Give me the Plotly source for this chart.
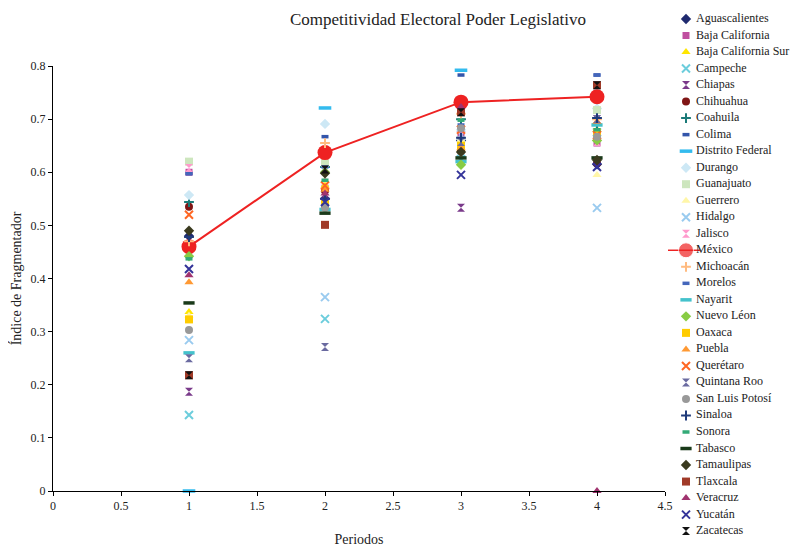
import plotly.graph_objects as go

periods = [1, 2, 3, 4]
aguascalientes = [0.480, 0.550, 0.660, 0.615]
baja_california = [0.600, 0.570, 0.670, 0.655]
baja_california_sur = [0.337, 0.575, 0.645, 0.680]
campeche = [0.143, 0.324, 0.625, 0.675]
chiapas = [0.187, 0.560, 0.533, 0.700]
chihuahua = [0.535, 0.565, 0.640, 0.617]
coahuila = [0.544, 0.610, 0.700, 0.690]
colima = [0.598, 0.667, 0.783, 0.783]
distrito_federal = [0.000, 0.721, 0.792, 0.745]
durango = [0.557, 0.691, 0.680, 0.720]
guanajuato = [0.620, 0.617, 0.660, 0.717]
guerrero = [0.330, 0.585, 0.660, 0.595]
hidalgo = [0.284, 0.365, 0.670, 0.533]
jalisco = [0.608, 0.590, 0.670, 0.657]
mexico = [0.460, 0.637, 0.732, 0.742]
michoacan = [0.470, 0.655, 0.710, 0.700]
morelos = [0.597, 0.610, 0.689, 0.783]
nayarit = [0.260, 0.530, 0.620, 0.689]
nuevo_leon = [0.442, 0.600, 0.614, 0.660]
oaxaca = [0.323, 0.540, 0.650, 0.675]
puebla = [0.393, 0.567, 0.645, 0.695]
queretaro = [0.520, 0.575, 0.680, 0.670]
quintana_roo = [0.250, 0.271, 0.657, 0.700]
san_luis_potosi = [0.303, 0.533, 0.683, 0.667]
sinaloa = [0.478, 0.550, 0.665, 0.702]
sonora = [0.437, 0.585, 0.698, 0.680]
tabasco = [0.354, 0.523, 0.627, 0.627]
tamaulipas = [0.490, 0.598, 0.638, 0.623]
tlaxcala = [0.218, 0.501, 0.713, 0.764]
veracruz = [0.406, 0.560, 0.723, 0.000]
yucatan = [0.418, 0.544, 0.595, 0.610]
zacatecas = [0.218, 0.605, 0.713, 0.764]

x_ticks = [0, 0.5, 1, 1.5, 2, 2.5, 3, 3.5, 4, 4.5]
y_ticks = [0, 0.1, 0.2, 0.3, 0.4, 0.5, 0.6, 0.7, 0.8]

series = [
    ("Aguascalientes", aguascalientes, "diamond", "#1F2A6F", 8),
    ("Baja California", baja_california, "square", "#C04FA0", 7),
    ("Baja California Sur", baja_california_sur, "triangle-up", "#FFE600", 8),
    ("Campeche", campeche, "x-thin", "#6CCDDC", 8),
    ("Chiapas", chiapas, "hourglass", "#7A3A8A", 8),
    ("Chihuahua", chihuahua, "circle", "#7F1515", 8),
    ("Coahuila", coahuila, "cross-thin", "#1A7A78", 7),
    ("Colima", colima, "line-ew", "#3355AA", 5),
    ("Distrito Federal", distrito_federal, "line-ew", "#33BBEE", 9),
    ("Durango", durango, "diamond", "#CDE8F5", 8),
    ("Guanajuato", guanajuato, "square", "#CDE6BE", 8),
    ("Guerrero", guerrero, "triangle-up", "#FFF6A8", 8),
    ("Hidalgo", hidalgo, "x-thin", "#9ACBEF", 8),
    ("Jalisco", jalisco, "hourglass", "#FF99CC", 8),
    ("México", mexico, "circle", "#EE2222", 15),
    ("Michoacán", michoacan, "cross-thin", "#FFBB80", 7),
    ("Morelos", morelos, "line-ew", "#4466BB", 5),
    ("Nayarit", nayarit, "line-ew", "#44C2CC", 8),
    ("Nuevo Léon", nuevo_leon, "diamond", "#88CC44", 8),
    ("Oaxaca", oaxaca, "square", "#FFCC00", 8),
    ("Puebla", puebla, "triangle-up", "#FF9933", 8),
    ("Querétaro", queretaro, "x-thin", "#FF6622", 8),
    ("Quintana Roo", quintana_roo, "hourglass", "#6A6AA0", 8),
    ("San Luis Potosí", san_luis_potosi, "circle", "#999999", 8),
    ("Sinaloa", sinaloa, "cross-thin", "#1F3A7A", 7),
    ("Sonora", sonora, "line-ew", "#33AA77", 5),
    ("Tabasco", tabasco, "line-ew", "#1A3A1A", 8),
    ("Tamaulipas", tamaulipas, "diamond", "#3A3A1E", 8),
    ("Tlaxcala", tlaxcala, "square", "#A03A28", 8),
    ("Veracruz", veracruz, "triangle-up", "#A0336F", 8),
    ("Yucatán", yucatan, "x-thin", "#333399", 8),
    ("Zacatecas", zacatecas, "hourglass", "#111111", 8),
]

FONT = "Liberation Serif"
OFF = 8                      # page body margin
PW, PH = 800, 547            # page size
W, H = PW - OFF, PH - OFF    # figure size
fig = go.Figure()


def marker_dict(sym, col, size):
    if sym == "line-ew":
        return dict(symbol=sym, size=size, line=dict(color=col, width=3.5))
    if sym in ("x-thin", "cross-thin"):
        return dict(symbol=sym, size=size, color=col, line=dict(color=col, width=2))
    return dict(symbol=sym, size=size, color=col, line=dict(width=0))


for name, vals, sym, col, size in series:
    if name == "México":
        fig.add_trace(go.Scatter(x=periods, y=vals, name=name, mode="lines+markers",
                                 line=dict(color=col, width=2),
                                 marker=dict(symbol="circle", size=size, color=col),
                                 cliponaxis=False))
    else:
        fig.add_trace(go.Scatter(x=periods, y=vals, name=name, mode="markers",
                                 marker=marker_dict(sym, col, size), cliponaxis=False))

# custom legend drawn on an overlay axis measured in page pixels
row0, row_step = 19.0, 16.52
leg_mx, leg_tx = 686, 696
rows = [row0 + i * row_step for i in range(len(series))]
for (name, vals, sym, col, size), ry in zip(series, rows):
    if name == "México":
        fig.add_trace(go.Scatter(x=[leg_mx - 18, leg_mx, leg_mx + 14], y=[ry, ry, ry],
                                 mode="lines+markers", line=dict(color=col, width=1.5),
                                 marker=dict(size=[0, size, 0], color=col),
                                 xaxis="x2", yaxis="y2", showlegend=False, hoverinfo="skip",
                                 cliponaxis=False))
    else:
        fig.add_trace(go.Scatter(x=[leg_mx], y=[ry], mode="markers",
                                 marker=marker_dict(sym, col, size),
                                 xaxis="x2", yaxis="y2", showlegend=False, hoverinfo="skip",
                                 cliponaxis=False))
fig.add_trace(go.Scatter(x=[leg_tx] * len(series), y=rows, mode="text",
                         text=[s[0] for s in series], textposition="middle right",
                         textfont=dict(family=FONT, size=12, color="#222222"),
                         xaxis="x2", yaxis="y2", showlegend=False, hoverinfo="skip",
                         cliponaxis=False))

# plot area in page pixels
x0, x1, ytop, ybot = 53, 665, 66, 491
fx = lambda p: (p - OFF) / W
fy = lambda p: 1 - (p - OFF) / H
fig.update_layout(
    width=W, height=H,
    margin=dict(l=0, r=0, t=0, b=0),
    paper_bgcolor="white", plot_bgcolor="rgba(0,0,0,0)",
    showlegend=False,
    font=dict(family=FONT, size=12, color="#222222"),
    title=dict(text="Competitividad Electoral Poder Legislativo", x=fx(438), xanchor="center",
               y=fy(19), yanchor="middle", font=dict(family=FONT, size=17, color="#222222")),
    xaxis=dict(domain=[fx(x0), fx(x1)], range=[0, 4.5], tickvals=x_ticks,
               ticktext=[f"{v:g}" for v in x_ticks], showgrid=False, zeroline=False,
               showline=True, linecolor="black", linewidth=1, ticks="outside",
               ticklen=4, tickcolor="black", automargin=False,
               title=dict(text="Periodos", font=dict(size=14), standoff=24)),
    yaxis=dict(domain=[fy(ybot), fy(ytop)], range=[0, 0.8], tickvals=y_ticks,
               ticktext=[f"{v:g}" for v in y_ticks], showgrid=False, zeroline=False,
               showline=True, linecolor="black", linewidth=1, ticks="outside",
               ticklen=4, tickcolor="black", automargin=False,
               title=dict(text="Índice de Fragmentador", font=dict(size=14), standoff=5)),
    xaxis2=dict(domain=[fx(640), 1], range=[640, PW], visible=False, fixedrange=True),
    yaxis2=dict(domain=[0, 1], range=[PH, OFF], visible=False, fixedrange=True, anchor="x2"),
)
fig.write_html("out.html")
